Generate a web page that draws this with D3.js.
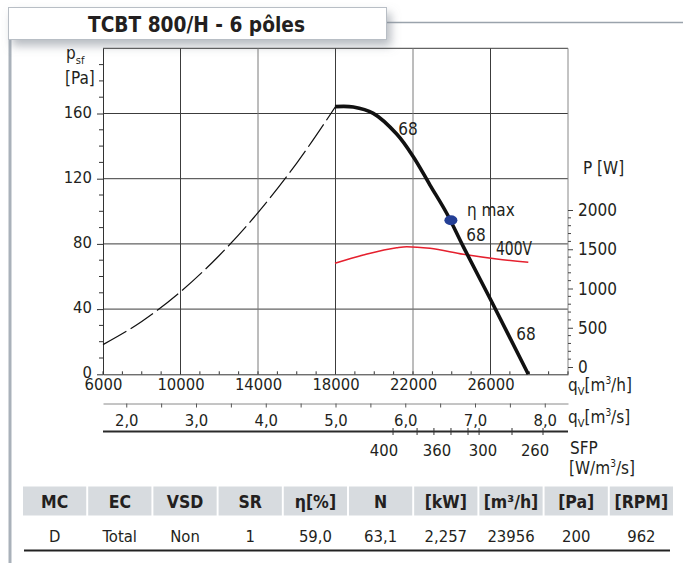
<!DOCTYPE html>
<html><head><meta charset="utf-8">
<script src="https://cdn.jsdelivr.net/npm/d3@7"></script>
<style>
body{margin:0;background:#fff;}
svg{display:block;}
text{font-family:"DejaVu Sans Condensed","DejaVu Sans",sans-serif;font-stretch:condensed;fill:#231f20;}
</style></head><body>
<svg id="c" width="683" height="563"></svg>
<script>
// ---------- data ----------
const title = "TCBT 800/H - 6 pôles";
const qTicks = [6000, 10000, 14000, 18000, 22000, 26000];
const pTicks = [0, 40, 80, 120, 160];
const wTicks = [0, 500, 1000, 1500, 2000];
const m3sTicks = [2, 3, 4, 5, 6, 7, 8];
const pressureCurve = [[17974,164.2],[18919,164],[19950,160.1],[21158,147.4],[22015,133.5],[22877,116.1],[23739,98.8],[24596,78.3],[26062,44.5],[27951,0]];
const systemCurve = [[6000,18.2],[8000,32.4],[10000,50.6],[12000,72.9],[14000,99.2],[16000,129.6],[18000,164.2]];
const powerCurve = [[17974,1321],[19434,1427],[21158,1520],[21674,1532],[22877,1512],[24596,1436],[26320,1376],[27951,1334]];
const etaMax = [23956, 94.5];
const sfpLabels = [400, 360, 300, 260];
const sfpLabelQ = [20500, 23240, 25610, 28300];
const sfpTickQ = [20970, 22210, 23080, 23960, 24840, 25410, 27110, 28710];
const speedLabel = "68";
const tableHeader = ["MC","EC","VSD","SR","η[%]","N","[kW]","[m³/h]","[Pa]","[RPM]"];
const tableRow = ["D","Total","Non","1","59,0","63,1","2,257","23956","200","962"];

// ---------- setup ----------
const svg = d3.select("#c");
const RED = "#e5202e", BLUE = "#243f96";
const FS = "16.5px";
const x = d3.scaleLinear([6000, 30000], [103, 568]);
const y = d3.scaleLinear([0, 200], [374.3, 48.3]);
const yW = d3.scaleLinear([0, 2000], [367, 210]);
const xs = d3.scaleLinear([6000/3600, 30000/3600], [103, 568]);

const defs = svg.append("defs");
const f = defs.append("filter").attr("id","sh").attr("x","-10%").attr("y","-30%").attr("width","130%").attr("height","190%");
f.append("feDropShadow").attr("dx",4).attr("dy",6).attr("stdDeviation",5).attr("flood-color","#7d8690").attr("flood-opacity",0.55);

// frame lines
svg.append("line").attr("x1",386).attr("x2",683).attr("y1",22.5).attr("y2",22.5).attr("stroke","#9aa3ac").attr("stroke-width",1.5);
svg.append("line").attr("x1",10).attr("x2",10).attr("y1",36).attr("y2",563).attr("stroke","#a9b1ba").attr("stroke-width",3);

// title box
svg.append("rect").attr("x",8.5).attr("y",7.5).attr("width",378).attr("height",32)
  .attr("fill","#fff").attr("stroke","#b8bec5").attr("filter","url(#sh)");
svg.append("text").attr("x",88).attr("y",31.5).attr("textLength",217).attr("lengthAdjust","spacingAndGlyphs")
  .style("font-size","22px").style("font-weight","bold").text(title);

// grid
const grid = svg.append("g");
grid.selectAll("line.h").data(pTicks.filter(d=>d>0).concat([200])).join("line")
  .attr("x1",x(6000)).attr("x2",x(30000)).attr("y1",d=>y(d)).attr("y2",d=>y(d))
  .attr("stroke","#3c3c3c").attr("stroke-width",1);
grid.selectAll("line.v").data(qTicks.filter(d=>d>6000)).join("line")
  .attr("x1",d=>x(d)).attr("x2",d=>x(d)).attr("y1",y(0)).attr("y2",y(200))
  .attr("stroke",(d,i)=>i%2? "#7a7a7a":"#3c3c3c").attr("stroke-width",1);
svg.append("line").attr("x1",x(30000)).attr("x2",x(30000)).attr("y1",y(0)).attr("y2",y(200)).attr("stroke","#888");

// left axis
const gl = svg.append("g").attr("transform",`translate(${x(6000)},0)`)
  .call(d3.axisLeft(y).tickValues(pTicks).tickSize(6).tickSizeOuter(0).tickPadding(5));
gl.select(".domain").attr("stroke","#333");
gl.selectAll(".tick line").attr("stroke","#333");
gl.selectAll("text").style("font-size",FS).attr("dy","0.22em").attr("fill","#231f20").style("font-family",null);
gl.selectAll(".minor").data(d3.range(10,200,10).filter(d=>d%40)).join("line")
  .attr("x1",-4).attr("x2",0).attr("y1",d=>y(d)).attr("y2",d=>y(d)).attr("stroke","#333");

// bottom q axis
const gb = svg.append("g").attr("transform",`translate(0,${y(0)})`)
  .call(d3.axisBottom(x).tickValues(qTicks).tickSize(0).tickSizeOuter(0).tickFormat(d3.format("d")));
gb.select(".domain").attr("stroke","#333");
gb.selectAll("text").style("font-size",FS).attr("y",15.5).attr("dy",0).attr("fill","#231f20").style("font-family",null);
gb.selectAll(".minor").data(d3.range(6000,30001,1000)).join("line")
  .attr("x1",d=>x(d)).attr("x2",d=>x(d)).attr("y1",0).attr("y2",-3).attr("stroke","#333");

// right power axis
const gr = svg.append("g").attr("transform",`translate(${x(30000)},0)`)
  .call(d3.axisRight(yW).tickValues(wTicks).tickSize(5).tickSizeOuter(0).tickPadding(5).tickFormat(d3.format("d")));
gr.select(".domain").remove();
gr.selectAll(".tick line").attr("stroke","#444");
gr.selectAll("text").style("font-size","17px").attr("dy","0.33em").attr("fill",RED).style("font-family",null);
gr.selectAll(".minor").data(d3.range(0,2001,100).filter(d=>d%500)).join("line")
  .attr("x1",0).attr("x2",3).attr("y1",d=>yW(d)).attr("y2",d=>yW(d)).attr("stroke","#444");
svg.append("text").attr("x",583).attr("y",174).style("font-size","17px").attr("fill",RED).text("P [W]");

// m3/s axis
const gs = svg.append("g").attr("transform","translate(0,403.5)")
  .call(d3.axisBottom(xs).tickValues(d3.range(2,8.01,0.5)).tickSize(4).tickSizeOuter(0)
    .tickFormat(d=> m3sTicks.includes(d) ? d3.format(".1f")(d).replace(".",",") : ""));
gs.select(".domain").attr("stroke","#8a8a8a");
gs.selectAll(".tick line").attr("stroke","#555");
gs.selectAll("text").style("font-size",FS).attr("y",22).attr("dy",0).attr("fill","#231f20").style("font-family",null);

// SFP line
svg.append("line").attr("x1",x(6000)).attr("x2",x(30000)).attr("y1",431.5).attr("y2",431.5).attr("stroke","#2a2a2a").attr("stroke-width",2.2);
svg.selectAll(".sfpt").data(sfpTickQ).join("line")
  .attr("x1",d=>x(d)).attr("x2",d=>x(d)).attr("y1",428).attr("y2",435).attr("stroke","#333");
svg.selectAll(".sfpl").data(sfpLabels).join("text")
  .attr("x",(d,i)=>x(sfpLabelQ[i])).attr("y",456).attr("text-anchor","middle").style("font-size",FS).text(d=>d);

// axis titles
function qLabel(yy, unit){
  const t = svg.append("text").attr("x",568).attr("y",yy).style("font-size","17px");
  t.append("tspan").text("q");
  t.append("tspan").attr("dy",4).style("font-size","11px").text("V");
  t.append("tspan").attr("dy",-4).text("[m");
  t.append("tspan").attr("dy",-7).style("font-size","10px").text("3");
  t.append("tspan").attr("dy",7).text(unit+"]");
}
qLabel(391, "/h");
qLabel(423, "/s");
svg.append("text").attr("x",570).attr("y",454).style("font-size","17px").text("SFP");
const sfpU = svg.append("text").attr("x",569).attr("y",474).style("font-size","17px");
sfpU.append("tspan").text("[W/m");
sfpU.append("tspan").attr("dy",-7).style("font-size","10px").text("3");
sfpU.append("tspan").attr("dy",7).text("/s]");
const pl = svg.append("text").attr("x",66).attr("y",59).style("font-size","17px");
pl.append("tspan").text("p");
pl.append("tspan").attr("dy",5).style("font-size","11px").text("sf");
svg.append("text").attr("x",65).attr("y",84).style("font-size","17px").text("[Pa]");

// curves
const line = d3.line().x(d=>x(d[0])).y(d=>y(d[1])).curve(d3.curveMonotoneX);
svg.append("path").attr("d",line(systemCurve)).attr("fill","none").attr("stroke","#111").attr("stroke-width",1.2).attr("stroke-dasharray","27,5");
const lineW = d3.line().x(d=>x(d[0])).y(d=>yW(d[1])).curve(d3.curveMonotoneX);
svg.append("path").attr("d",lineW(powerCurve)).attr("fill","none").attr("stroke",RED).attr("stroke-width",1.6);
svg.append("path").attr("d",d3.line().x(d=>x(d[0])).y(d=>y(d[1])).curve(d3.curveCatmullRom)(pressureCurve))
  .attr("fill","none").attr("stroke","#111").attr("stroke-width",3.6).attr("stroke-linecap","butt");

// eta max
svg.append("ellipse").attr("cx",x(etaMax[0])).attr("cy",y(etaMax[1])).attr("rx",6.5).attr("ry",5).attr("fill",BLUE);
svg.append("text").attr("x",x(etaMax[0])+16).attr("y",y(etaMax[1])-4).style("font-size","17px").attr("fill",BLUE).text("η max");
svg.append("text").attr("x",496).attr("y",255).attr("textLength",36).attr("lengthAdjust","spacingAndGlyphs")
  .style("font-size","20px").attr("fill",RED).text("400V");

// speed labels
[[21742,150.5],[25252,85.5],[27832,25]].forEach(p=>{
  svg.append("text").attr("x",x(p[0])).attr("y",y(p[1])+6.5).attr("text-anchor","middle").style("font-size","17px").text(speedLabel);
});

// table
const tx = d3.scaleBand().domain(d3.range(tableHeader.length)).range([23, 673]).paddingInner(0.03);
svg.selectAll(".th").data(tableHeader).join("rect")
  .attr("x",(d,i)=>tx(i)).attr("y",486.5).attr("width",tx.bandwidth()).attr("height",29).attr("fill","#d7dbdf");
svg.selectAll(".tht").data(tableHeader).join("text")
  .attr("x",(d,i)=>tx(i)+tx.bandwidth()/2).attr("y",508).attr("text-anchor","middle")
  .style("font-size","17.5px").style("font-weight","bold").text(d=>d);
svg.selectAll(".tdt").data(tableRow).join("text")
  .attr("x",(d,i)=>tx(i)+tx.bandwidth()/2).attr("y",542).attr("text-anchor","middle")
  .style("font-size","16.5px").text(d=>d);
svg.append("line").attr("x1",24).attr("x2",670).attr("y1",550.5).attr("y2",550.5).attr("stroke","#222").attr("stroke-width",2.2);
</script>
</body></html>
